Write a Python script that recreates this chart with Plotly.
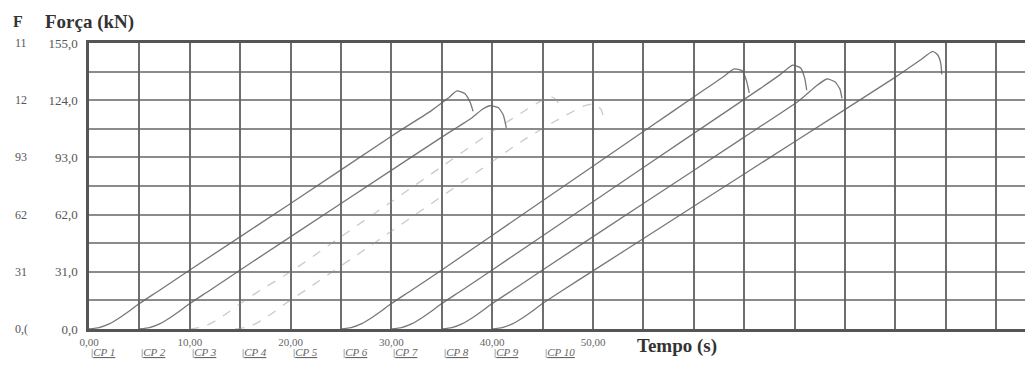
import plotly.graph_objects as go

# ---- data ----
cp1_t = [0, 1, 2, 3, 4, 5, 7, 10, 20, 30, 34, 35.6, 36.5, 37.3, 37.8, 38.1]
cp1_f = [0, 0.8, 2.8, 6, 9.8, 13.8, 21, 32, 68, 104.5, 118.5, 125, 129, 127.5, 123, 118]

cp2_t = [5, 6, 7, 8, 9, 10, 12, 15, 25, 35, 38, 39, 39.8, 40.6, 41.1, 41.4]
cp2_f = [0, 0.8, 2.8, 6, 9.8, 13.8, 21, 32, 68, 104, 114.5, 119, 121, 120, 116, 109]

cp3_t = [10, 11, 12, 13, 14, 15, 17, 20, 25, 30, 35, 40, 43, 44.8, 45.8, 46.4, 46.7]
cp3_f = [0, 0.8, 2.8, 6, 9.8, 13.8, 21, 31, 50, 69, 88, 107, 117.5, 123.5, 126, 124, 119]

cp4_t = [14.5, 15.5, 16.5, 17.5, 18.5, 19.5, 22, 30, 39, 43, 47, 49.2, 50.2, 50.8, 51.1]
cp4_f = [0, 0.8, 2.8, 6, 9.8, 13.8, 23, 53, 87, 102, 115, 121, 122, 119, 113]

cp6_t = [25, 26, 27, 28, 29, 30, 32, 35, 45, 55, 61, 63, 64, 64.8, 65.2, 65.5]
cp6_f = [0, 0.8, 2.8, 6, 9.8, 13.8, 21, 32, 69.5, 107, 129.5, 137, 141, 140, 135, 128]

cp7_t = [30, 31, 32, 33, 34, 35, 37, 40, 50, 60, 66.5, 68.6, 69.8, 70.6, 71, 71.2]
cp7_f = [0, 0.8, 2.8, 6, 9.8, 13.8, 21, 32, 69, 106, 130, 138, 143, 141.5, 136, 129.5]

cp8_t = [35, 36, 37, 38, 39, 40, 42, 45, 55, 65, 70.5, 72.2, 73.2, 74, 74.5, 74.7]
cp8_f = [0, 0.8, 2.8, 6, 9.8, 13.8, 21, 32, 68, 104, 124, 132, 135.5, 134, 130, 125]

cp9_t = [40, 41, 42, 43, 44, 45, 47, 50, 60, 70, 80, 82.4, 83.7, 84.2, 84.5, 84.6]
cp9_f = [0, 0.8, 2.8, 6, 9.8, 13.8, 21, 31.5, 66.5, 101.5, 136.5, 145.5, 150.5, 148.5, 144, 138]

cp_labels = ["CP 1", "CP 2", "CP 3", "CP 4", "CP 5", "CP 6", "CP 7", "CP 8", "CP 9", "CP 10"]
cp_label_pos = [0, 5, 10, 15, 20, 25, 30, 35, 40, 45]

x_tickvals = [0, 5, 10, 15, 20, 25, 30, 35, 40, 45, 50, 55, 60, 65, 70, 75, 80, 85, 90]
x_ticktext = ["0,00", "", "10,00", "", "20,00", "", "30,00", "", "40,00", "", "50,00",
              "", "", "", "", "", "", "", ""]
y_tickvals = [0, 15.5, 31, 46.5, 62, 77.5, 93, 108.5, 124, 139.5, 155]
y_ticktext = ["0,0", "", "31,0", "", "62,0", "", "93,0", "", "124,0", "", "155,0"]
y_left_vals = [155, 124, 93, 62, 31, 0]
y_left_text = ["11", "12", "93", "62", "31", "0,("]

fig = go.Figure()

dark = "rgba(95,95,95,0.85)"
faint = "rgba(150,150,150,0.5)"

series = [
    ("CP 1", cp1_t, cp1_f, dark, "solid"),
    ("CP 2", cp2_t, cp2_f, dark, "solid"),
    ("CP 3", cp3_t, cp3_f, faint, "dash"),
    ("CP 4", cp4_t, cp4_f, faint, "dash"),
    ("CP 6", cp6_t, cp6_f, dark, "solid"),
    ("CP 7", cp7_t, cp7_f, dark, "solid"),
    ("CP 8", cp8_t, cp8_f, dark, "solid"),
    ("CP 9", cp9_t, cp9_f, dark, "solid"),
]
for name, t, f, col, dash in series:
    fig.add_trace(go.Scatter(x=t, y=f, mode="lines", name=name,
                             line=dict(color=col, width=1.3, dash=dash,
                                       shape="spline", smoothing=0.5)))

serif = "Liberation Serif"

annotations = []
annotations.append(dict(text="<b>F</b>", xref="paper", yref="paper", x=-0.083, y=1.075,
                        xanchor="left", yanchor="middle", showarrow=False,
                        font=dict(family=serif, size=16, color="#333")))
annotations.append(dict(text="<b>Força (kN)</b>", xref="paper", yref="paper", x=-0.049, y=1.075,
                        xanchor="left", yanchor="middle", showarrow=False,
                        font=dict(family=serif, size=19, color="#333")))
for v, s in zip(y_left_vals, y_left_text):
    annotations.append(dict(text=s, xref="paper", yref="y", x=-0.072, y=v,
                            xanchor="center", yanchor="middle", showarrow=False,
                            font=dict(family=serif, size=12, color="#555")))
annotations.append(dict(text="<b>Tempo (s)</b>", xref="paper", yref="paper", x=0.578, y=-0.058,
                        xanchor="left", yanchor="middle", showarrow=False,
                        font=dict(family=serif, size=19, color="#333")))
for p, s in zip(cp_label_pos, cp_labels):
    annotations.append(dict(text="|<i><u>" + s + "</u></i>", xref="x", yref="paper", x=p, y=-0.082,
                            xanchor="left", yanchor="middle", showarrow=False,
                            font=dict(family=serif, size=11, color="#666")))

# the page body has an 8px default margin; the figure is sized so the plot area
# lands at x 89..1033, y 43..329 in the 1033x365 window
fig.update_layout(
    width=1025, height=357,
    margin=dict(l=81, r=0, t=35, b=36),
    paper_bgcolor="white", plot_bgcolor="white",
    showlegend=False,
    annotations=annotations,
    xaxis=dict(range=[0, 93.65], tickvals=x_tickvals, ticktext=x_ticktext,
               showgrid=True, gridcolor="rgba(85,85,85,0.85)", gridwidth=1.6,
               zeroline=False, showline=True, linecolor="#555", linewidth=2.5, mirror=True,
               ticks="", ticklabelstandoff=1,
               tickfont=dict(family=serif, size=11, color="#666")),
    yaxis=dict(range=[0, 155], tickvals=y_tickvals, ticktext=y_ticktext,
               showgrid=True, gridcolor="rgba(100,100,100,0.75)", gridwidth=1.5,
               zeroline=False, showline=True, linecolor="#555", linewidth=2.5,
               ticks="", ticklabelstandoff=6,
               tickfont=dict(family=serif, size=13, color="#555")),
)

fig.write_html("out.html")
